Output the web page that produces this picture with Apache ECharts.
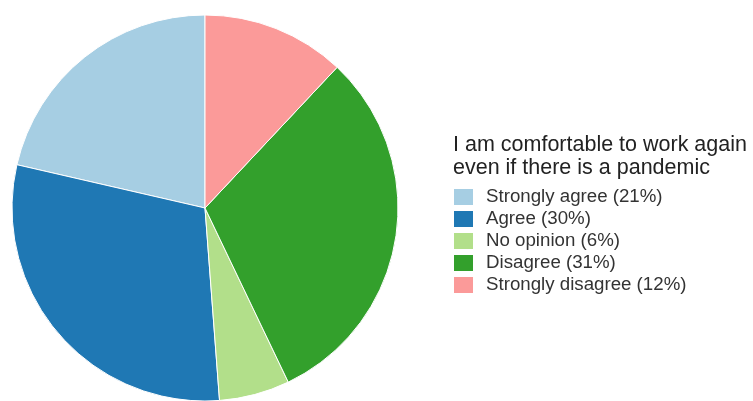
<!DOCTYPE html>
<html><head><meta charset="utf-8">
<script src="https://cdn.jsdelivr.net/npm/echarts@6/dist/echarts.min.js"></script>
<style>html,body{margin:0;padding:0;background:#fff}#c{width:753px;height:401px}</style>
</head><body><div id="c"></div>
<script>
const categories = ["Strongly agree (21%)", "Agree (30%)", "No opinion (6%)", "Disagree (31%)", "Strongly disagree (12%)"];
const values = [21.4, 29.8, 5.9, 30.9, 12.0];
const colors = ["#A6CEE3", "#1F78B4", "#B2DF8A", "#33A02C", "#FB9A99"];
const legendTitle = "I am comfortable to work again\neven if there is a pandemic";

const chart = echarts.init(document.getElementById('c'), null, {renderer: 'canvas'});
chart.setOption({
  animation: false,
  backgroundColor: '#fff',
  title: {
    text: legendTitle,
    left: 448, top: 129,
    textStyle: {fontFamily: 'Liberation Sans, Arial', fontSize: 21.5, fontWeight: 'normal', color: '#222', lineHeight: 23}
  },
  legend: {
    orient: 'vertical',
    left: 452, top: 187,
    padding: 0,
    itemWidth: 21, itemHeight: 18,
    itemGap: 2,
    icon: 'rect',
    data: categories,
    textStyle: {fontFamily: 'Liberation Sans, Arial', fontSize: 18.7, color: '#333', lineHeight: 18, padding: [0,0,0,7]},
    selectedMode: false
  },
  series: [{
    type: 'pie',
    center: [205, 208],
    radius: 193,
    startAngle: 90,
    clockwise: false,
    label: {show: false},
    labelLine: {show: false},
    itemStyle: {borderColor: '#fff', borderWidth: 1},
    emphasis: {disabled: true},
    data: categories.map((c, i) => ({name: c, value: values[i], itemStyle: {color: colors[i]}}))
  }]
});
</script></body></html>
